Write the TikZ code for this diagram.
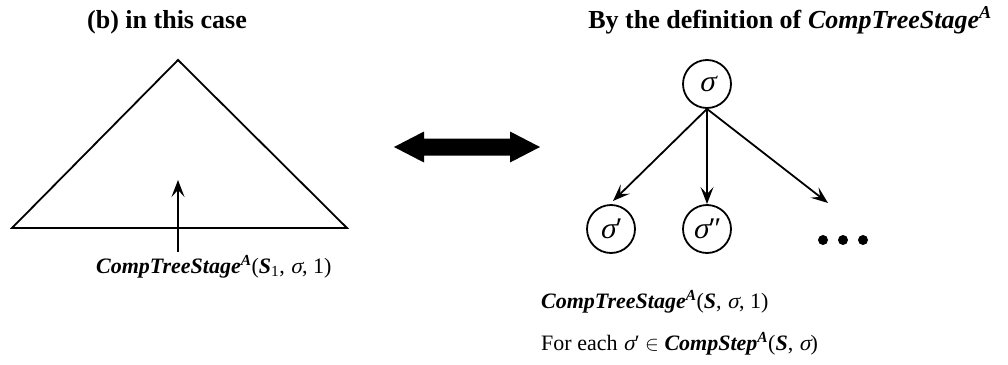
\documentclass[tikz,border=0pt]{standalone}
\usepackage{fontspec}
\setmainfont{Liberation Serif}
\newfontfamily\grk[FakeSlant=0.22]{Liberation Serif}
\usetikzlibrary{arrows.meta}
\newcommand\bi[1]{\textbf{\textit{#1}}}
\newcommand\supA{\textsuperscript{\bi{A}}}
\newcommand\sig{{\grk σ}}
\begin{document}
\begin{tikzpicture}[x=1pt,y=-1pt,
  txt/.style={inner sep=0pt,font=\fontsize{22}{26}\selectfont},
  ttl/.style={inner sep=0pt,font=\fontsize{26}{30}\selectfont\bfseries},
  state/.style={circle,draw,line width=1.8pt,minimum size=48pt,inner sep=0pt,
    font=\fontsize{30}{32}\selectfont},
  edge/.style={line width=1.8pt,-{Stealth[length=17pt,width=13pt,inset=7pt]}},
  dot/.style={circle,fill,inner sep=0pt,minimum size=10pt}]
\useasboundingbox (0,0) rectangle (1008,364);

% headings
\node[ttl,anchor=base] (hl) at (167,28) {(b) in this case};
\node[ttl,anchor=base] (hr) at (790,28) {By the definition of \bi{CompTreeStage}\supA};

% the tree drawn as a triangle
\coordinate (apex) at (178,60);
\coordinate (bl) at (12,228);
\coordinate (br) at (347,228);
\draw[line width=1.8pt,line join=miter] (apex) -- (bl) -- (br) -- cycle;
\node[txt,anchor=base west] (ll) at (96,273)
  {\bi{CompTreeStage}\supA(\bi{S}\textsubscript{1}, \sig, 1)};
\coordinate (up) at (178,180);
\coordinate (upfoot) at (178,252);
\draw[edge] (upfoot) -- (up);

% equivalence arrow
\fill (394,147) -- (424,131.5) -- (424,138.5) -- (510,138.5) -- (510,131.5)
  -- (540,147) -- (510,162.5) -- (510,155.5) -- (424,155.5) -- (424,162.5) -- cycle;

% the tree by definition
\node[state] (root) at (707,84) {\sig};
\node[state] (c1) at (611,229) {\sig′};
\node[state] (c2) at (707,229) {\sig″};
\coordinate (t1) at (613,201);
\coordinate (t2) at (707,204);
\coordinate (t3) at (828,203);
\draw[edge] (root.south) -- (t1);
\draw[edge] (root.south) -- (t2);
\draw[edge] (root.south) -- (t3);
\node[dot] (d1) at (823,240) {};
\node[dot] (d2) at (843,240) {};
\node[dot] (d3) at (863,240) {};

\node[txt,anchor=base west] (lr1) at (541,308)
  {\bi{CompTreeStage}\supA(\bi{S}, \sig, 1)};
\node[txt,anchor=base west] (lr2) at (541,350)
  {For each \sig′ $\in$ \bi{CompStep}\supA(\bi{S}, \sig)};
\end{tikzpicture}
\end{document}
